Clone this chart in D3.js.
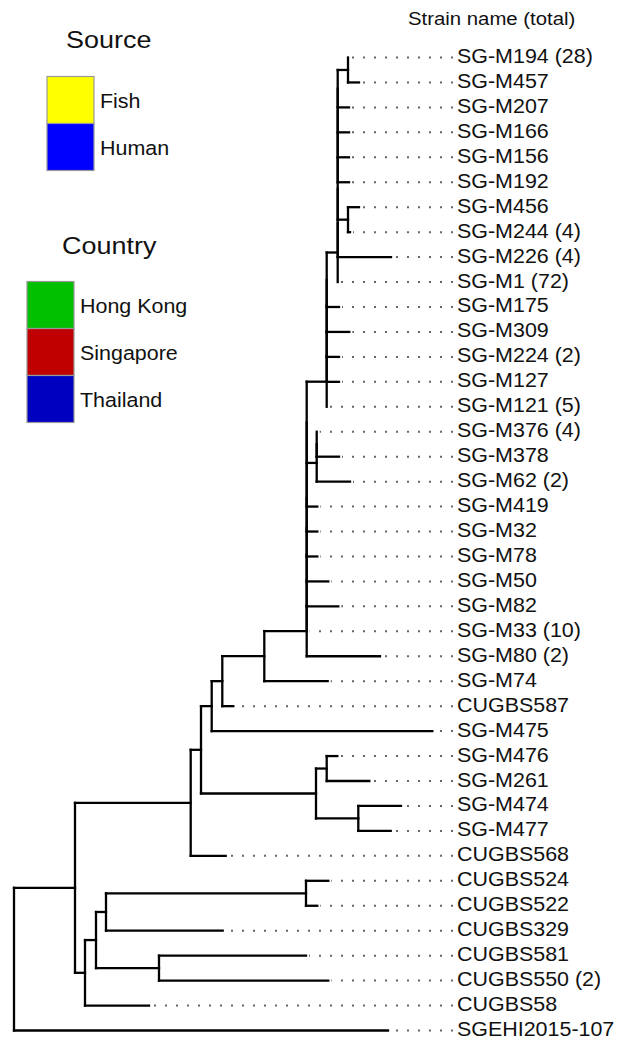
<!DOCTYPE html>
<html>
<head>
<meta charset="utf-8">
<script src="https://cdn.jsdelivr.net/npm/d3@7"></script>
<style>
  html, body { margin: 0; padding: 0; background: #fff; }
  svg { display: block; }
  text { font-family: "Liberation Sans", Arial, Helvetica, sans-serif; fill: #111; }
</style>
</head>
<body>
<svg id="chart" width="621" height="1040"></svg>
<script>
// ---------------- DATA ----------------
// Tree edges: [node, parent, branch length (x10^-3 subst./site)], children listed top-to-bottom
const edges = [
  ["root", null, 0],
  ["A", "root", 6.1],
  ["U", "A", 11.57],
  ["V", "U", 1.03],
  ["W", "V", 1.07],
  ["Q", "W", 1.06],
  ["R", "Q", 4.2],
  ["H", "R", 4.24],
  ["h7", "H", 0], ["h6", "h7", 0], ["h5", "h6", 0], ["h4", "h5", 0],
  ["h3", "h4", 0], ["h2", "h3", 0], ["h1", "h2", 0],
  ["K", "h1", 2.0],
  ["k4", "K", 0], ["k3", "k4", 0], ["k2", "k3", 0], ["k1", "k2", 0],
  ["I", "k1", 1.1],
  ["i7", "I", 0], ["i6", "i7", 0], ["i5", "i6", 0], ["i4", "i5", 0],
  ["i3", "i4", 0], ["i2", "i3", 0],
  ["J1", "i2", 1.03],
  ["SG-M194", "J1", 0], ["SG-M457", "J1", 1.1],
  ["SG-M207", "i2", 1.13],
  ["SG-M166", "i3", 1.13],
  ["SG-M156", "i4", 1.13],
  ["SG-M192", "i5", 1.13],
  ["J2", "i6", 1.03],
  ["SG-M456", "J2", 1.1], ["SG-M244", "J2", 0.2],
  ["SG-M226", "i7", 5.33],
  ["SG-M1", "I", 0],
  ["SG-M175", "k1", 1.23],
  ["SG-M309", "k2", 2.26],
  ["SG-M224", "k3", 1.23],
  ["SG-M127", "k4", 1.23],
  ["SG-M121", "K", 0],
  ["P0", "h1", 1.0],
  ["p1", "P0", 0],
  ["SG-M376", "p1", 0], ["SG-M378", "p1", 2.23],
  ["SG-M62", "P0", 3.33],
  ["SG-M419", "h2", 1.06],
  ["SG-M32", "h3", 1.06],
  ["SG-M78", "h4", 1.06],
  ["SG-M50", "h5", 2.16],
  ["SG-M82", "h6", 3.16],
  ["SG-M33", "h7", 0],
  ["SG-M80", "H", 7.33],
  ["SG-M74", "R", 6.34],
  ["CUGBS587", "Q", 1.1],
  ["SG-M475", "W", 22.06],
  ["X", "V", 11.5],
  ["Y", "X", 1.07],
  ["SG-M476", "Y", 1.06], ["SG-M261", "Y", 4.26],
  ["Z", "X", 4.23],
  ["SG-M474", "Z", 4.27], ["SG-M477", "Z", 3.24],
  ["CUGBS568", "U", 3.5],
  ["B", "A", 1.0],
  ["C", "B", 1.1],
  ["E", "C", 1.0],
  ["N", "E", 20.0],
  ["CUGBS524", "N", 2.23], ["CUGBS522", "N", 1.13],
  ["CUGBS329", "E", 11.67],
  ["F", "C", 6.3],
  ["CUGBS581", "F", 14.7], ["CUGBS550", "F", 16.93],
  ["CUGBS58", "B", 6.4],
  ["SGEHI2015-107", "root", 37.4]
];

// Strains with more than one isolate (total)
const multiStrains = ["SG-M194", "SG-M244", "SG-M226", "SG-M1", "SG-M224", "SG-M121",
                      "SG-M376", "SG-M62", "SG-M33", "SG-M80", "CUGBS550"];
const multiTotals  = [28, 4, 4, 72, 2, 5, 4, 2, 10, 2, 2];

const headerText = "Strain name (total)";

const sourceTitle = "Source";
const sourceLabels = ["Fish", "Human"];
const sourceColors = ["#FFFF00", "#0000FF"];

const countryTitle = "Country";
const countryLabels = ["Hong Kong", "Singapore", "Thailand"];
const countryColors = ["#00C000", "#C00000", "#0000C0"];

// ---------------- LAYOUT ----------------
const svg = d3.select("#chart");
const SX = 1.1; // horizontal text stretch of the original figure

const totalOf = new Map(multiStrains.map((s, i) => [s, multiTotals[i]]));

const root = d3.stratify()
  .id(d => d[0])
  .parentId(d => d[1])(edges);

// cumulative distance from root
root.eachBefore(n => { n.dist = n.parent ? n.parent.dist + n.data[2] : 0; });
const leaves = root.leaves();
const maxDist = d3.max(leaves, d => d.dist);

const x = d3.scaleLinear().domain([0, maxDist]).range([14, 432.3]);
const y = d3.scaleLinear().domain([0, leaves.length - 1]).range([57.5, 1030.5]);

leaves.forEach((l, i) => { l.yPos = y(i); });
root.eachAfter(n => {
  if (n.children) {
    n.yPos = (n.children[0].yPos + n.children[n.children.length - 1].yPos) / 2;
  }
});

const labelX = 457;

// dotted leaders
const gDots = svg.append("g");
leaves.forEach(l => {
  const x1 = labelX - 4, x2 = x(l.dist) + 3;
  if (x1 > x2) {
    gDots.append("line")
      .attr("x1", x1).attr("x2", x2)
      .attr("y1", l.yPos).attr("y2", l.yPos)
      .attr("stroke", "#666")
      .attr("stroke-width", 2)
      .attr("stroke-dasharray", "2 9");
  }
});

// branches
const gTree = svg.append("g")
  .attr("stroke", "#000").attr("stroke-width", 2.3)
  .attr("stroke-linecap", "square").attr("fill", "none");

root.descendants().forEach(n => {
  if (n.children) {
    const c0 = n.children[0], c1 = n.children[n.children.length - 1];
    gTree.append("line")
      .attr("x1", x(n.dist)).attr("x2", x(n.dist))
      .attr("y1", c0.yPos).attr("y2", c1.yPos);
  }
  if (n.parent && n.data[2] > 0) {
    gTree.append("line")
      .attr("x1", x(n.parent.dist)).attr("x2", x(n.dist))
      .attr("y1", n.yPos).attr("y2", n.yPos);
  }
});

// labels
function stretchedText(sel, tx, ty, str, size) {
  return sel.append("text")
    .attr("transform", `translate(${tx},${ty}) scale(${SX},1)`)
    .attr("font-size", size)
    .text(str);
}

const gLab = svg.append("g");
leaves.forEach(l => {
  const name = l.id;
  const t = totalOf.get(name);
  stretchedText(gLab, labelX, l.yPos + 5.5, t ? `${name} (${t})` : name, 19.5);
});

stretchedText(svg, 408, 25, headerText, 18.5);

// legends
function legend(title, titleX, titleY, boxX, boxY, labels, colors) {
  const g = svg.append("g");
  stretchedText(g, titleX, titleY, title, 24.5);
  const bh = 47, bw = 47;
  labels.forEach((lab, i) => {
    g.append("rect")
      .attr("x", boxX).attr("y", boxY + i * bh)
      .attr("width", bw).attr("height", bh)
      .attr("fill", colors[i])
      .attr("stroke", "#999").attr("stroke-width", 1.2);
    stretchedText(g, boxX + bw + 6, boxY + i * bh + 31, lab, 19.5);
  });
}

legend(sourceTitle, 66, 48, 47, 76.5, sourceLabels, sourceColors);
legend(countryTitle, 62, 254, 27, 281.5, countryLabels, countryColors);
</script>
</body>
</html>
